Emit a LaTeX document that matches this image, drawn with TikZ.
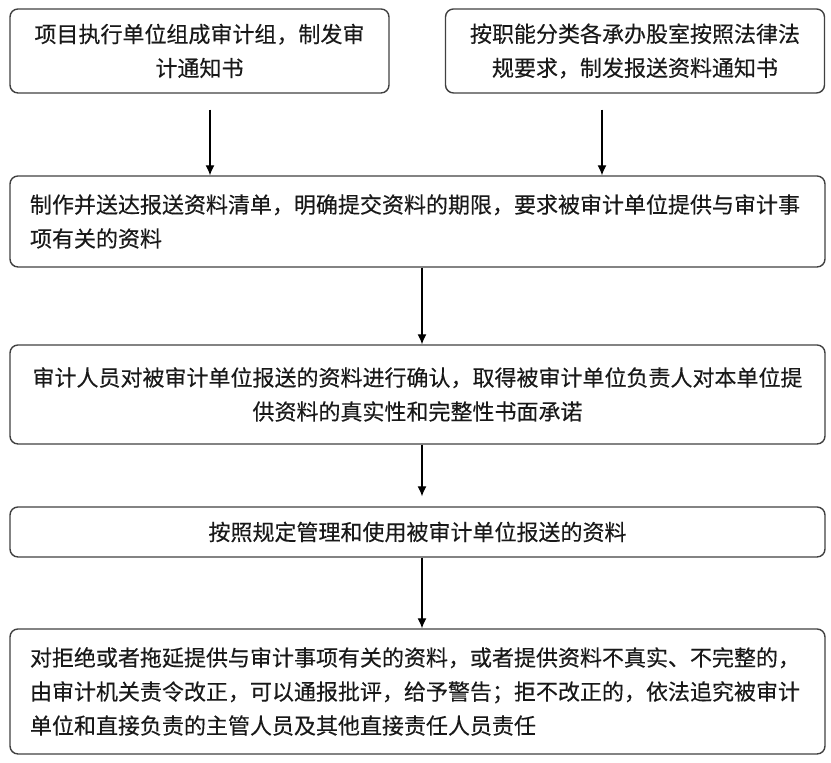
\documentclass[tikz,border=0pt]{standalone}
\usepackage{fontspec}
\newfontfamily\cjk[FakeBold=0.3]{Noto Sans CJK SC}
\usepackage{tikz}
\usetikzlibrary{positioning, arrows.meta}

\begin{document}
\begin{tikzpicture}[
  box/.style={draw=black!75, line width=0.7pt, rounded corners=4pt, inner xsep=10pt, inner ysep=0pt, text=black!90, font=\cjk\fontsize{11pt}{17pt}\selectfont},
  smallbox/.style={box, minimum width=189.5pt, minimum height=42pt, text width=169.5pt, align=center},
  widebox/.style={box, minimum width=407.5pt, text width=387.5pt},
  arr/.style={-{Latex[length=5pt,width=4.5pt]}, line width=0.6pt}
]
\useasboundingbox (0,0) rectangle (415.5pt,381.5pt);
\node [smallbox] (group) at (99.75pt,356pt) {项目执行单位组成审计组，制发审\\计通知书};
\node [smallbox] (notice) at (317.5pt,356pt) {按职能分类各承办股室按照法律法\\规要求，制发报送资料通知书};
\node [widebox, minimum height=45.5pt, align=left] (list) at (208.75pt,270.75pt) {制作并送达报送资料清单，明确提交资料的期限，要求被审计单位提供与审计事\\项有关的资料};
\node [widebox, minimum height=49.5pt, align=center] (check) at (208.75pt,184.25pt) {审计人员对被审计单位报送的资料进行确认，取得被审计单位负责人对本单位提\\供资料的真实性和完整性书面承诺};
\node [widebox, minimum height=25pt, align=center] (use) at (208.75pt,115.5pt) {按照规定管理和使用被审计单位报送的资料};
\node [widebox, minimum height=62.5pt, align=left] (punish) at (208.75pt,35.75pt) {对拒绝或者拖延提供与审计事项有关的资料，或者提供资料不真实、不完整的，\\由审计机关责令改正，可以通报批评，给予警告；拒不改正的，依法追究被审计\\单位和直接负责的主管人员及其他直接责任人员责任};
% arrows into the list
\draw [arr, shorten <=8pt] ([xshift=5.25pt]group.south) -- ([xshift=5.25pt]group.south |- list.north);
\draw [arr, shorten <=8pt] ([xshift=-16.5pt]notice.south) -- ([xshift=-16.5pt]notice.south |- list.north);
\foreach \a/\b/\s in {list/check/0pt, check/use/5pt, use/punish/0pt}
  \draw [arr, shorten >=\s] ([xshift=2.25pt]\a.south) -- ([xshift=2.25pt]\b.north);
\end{tikzpicture}
\end{document}
